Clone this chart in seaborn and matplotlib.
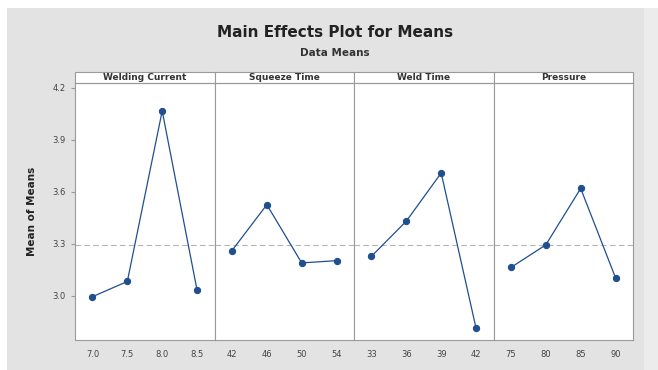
import matplotlib
matplotlib.use("Agg")
import matplotlib.pyplot as plt
from matplotlib.patches import Rectangle
import seaborn as sns
import pandas as pd

# factor levels and the mean response
factors = ['Welding Current', 'Squeeze Time', 'Weld Time', 'Pressure']
levels = [['7.0', '7.5', '8.0', '8.5'],
          ['42', '46', '50', '54'],
          ['33', '36', '39', '42'],
          ['75', '80', '85', '90']]
welding_current = [2.995, 3.083, 4.067, 3.033]
squeeze_time = [3.261, 3.526, 3.190, 3.203]
weld_time = [3.228, 3.431, 3.709, 2.813]
pressure = [3.164, 3.294, 3.620, 3.104]
grand_mean = 3.295
y_ticks = [3.0, 3.3, 3.6, 3.9, 4.2]
y_tick_labels = ['3.0', '3.3', '3.6', '3.9', '4.2']

means = [welding_current, squeeze_time, weld_time, pressure]

sns.set_style('white')
plt.rcParams['font.family'] = ['DejaVu Sans']

line_color = '#1f4f8f'

fig, axes = plt.subplots(1, 4, figsize=(6.58, 3.7), dpi=100, sharey=True)
fig.patch.set_facecolor('#e3e3e3')
fig.subplots_adjust(left=0.114, right=0.962, top=0.776, bottom=0.081, wspace=0)

# white margin at the top and left, lighter band on the right like the screenshot
fig.patches.append(Rectangle((0, 1 - 8 / 370), 1, 8 / 370, transform=fig.transFigure,
                             facecolor='white', edgecolor='none', zorder=-1))
fig.patches.append(Rectangle((0, 0), 7 / 658, 1, transform=fig.transFigure,
                             facecolor='white', edgecolor='none', zorder=-1))
fig.patches.append(Rectangle((644 / 658, 0), 14 / 658, 1 - 8 / 370, transform=fig.transFigure,
                             facecolor='#ececec', edgecolor='none', zorder=-1))

for i, ax in enumerate(axes):
    df = pd.DataFrame({'level': levels[i], 'mean': means[i]})
    ax.axhline(grand_mean, color='#b5b5b5', lw=0.8, ls=(0, (5, 3)), zorder=1)
    sns.lineplot(data=df, x='level', y='mean', ax=ax, color=line_color, lw=0.9,
                 marker='o', markersize=4.5, markeredgecolor=line_color, sort=False, zorder=3)
    ax.set_xlim(-0.5, 3.5)
    ax.set_ylim(2.745, 4.229)
    ax.set_facecolor('white')
    ax.set_xlabel('')
    ax.set_ylabel('')
    for s in ax.spines.values():
        s.set_color('#9a9a9a')
        s.set_linewidth(0.8)
    ax.tick_params(axis='x', length=3, color='#9a9a9a', labelsize=6, labelcolor='#444444', pad=4)
    ax.tick_params(axis='y', length=3, color='#9a9a9a', labelsize=6, labelcolor='#444444', left=(i == 0))
    # strip header on top of each panel
    ax.add_patch(Rectangle((0, 1), 1, 0.043, transform=ax.transAxes, clip_on=False,
                           facecolor='white', edgecolor='#9a9a9a', lw=0.8))
    ax.text(0.5, 1.0215, factors[i], transform=ax.transAxes, ha='center', va='center',
            fontsize=6.5, fontweight='bold', color='#333333')

axes[0].set_yticks(y_ticks)
axes[0].set_yticklabels(y_tick_labels)
axes[0].set_ylabel('Mean of Means', fontsize=7.5, fontweight='bold', color='#222222', labelpad=11)

fig.text(0.509, 0.913, 'Main Effects Plot for Means', ha='center', va='center',
         fontsize=11, fontweight='bold', color='#222222')
fig.text(0.509, 0.857, 'Data Means', ha='center', va='center',
         fontsize=7.5, fontweight='bold', color='#333333')

fig.savefig('out.png', dpi=100, facecolor=fig.get_facecolor())
